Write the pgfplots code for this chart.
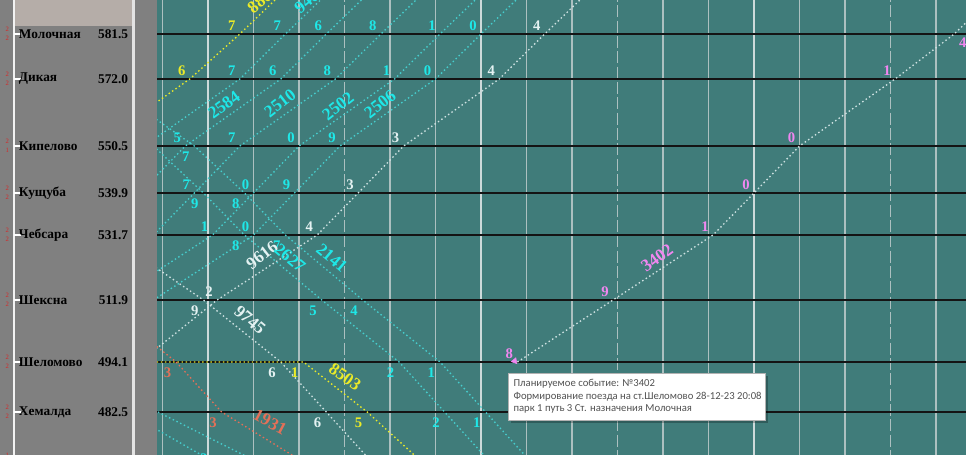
\documentclass[border=0pt]{standalone}
\usepackage{fontspec}
\setmainfont{Liberation Serif}
\newfontfamily\tipfont{Carlito}
\usepackage{pgfplots}
\pgfplotsset{compat=1.18}

\definecolor{bgteal}{RGB}{64,124,122}
\definecolor{panel}{RGB}{128,128,128}
\definecolor{beige}{RGB}{181,173,168}
\definecolor{gridc}{RGB}{172,192,192}
\definecolor{hourc}{RGB}{205,218,218}
\definecolor{cyl}{RGB}{70,205,205}
\definecolor{cyt}{RGB}{30,232,232}
\definecolor{whl}{RGB}{205,225,225}
\definecolor{wht}{RGB}{228,242,242}
\definecolor{yel}{RGB}{235,235,40}
\definecolor{orn}{RGB}{228,112,88}
\definecolor{pnk}{RGB}{240,135,240}
\definecolor{redd}{RGB}{215,40,40}

\tikzset{
  train/.style={line width=1pt, dash pattern=on 1.1pt off 2pt},
  dg/.style={font=\fontsize{11}{11}\selectfont\bfseries, inner sep=0pt},
  tn/.style={font=\fontsize{13}{13}\selectfont\bfseries, inner sep=0pt},
  st/.style={font=\fontsize{10}{10}\selectfont\bfseries, inner sep=0pt, text=black},
  tip/.style={font=\tipfont\fontsize{8}{8}\selectfont, inner sep=0pt, text=black!68, anchor=west},
}
% x: minutes after 19:00, y: position of the station on the sheet
\newcommand\up[4]{\node[dg,text=#4,xshift=-6pt,yshift=6.5pt] at (axis cs:#1,#2) {#3};}
\newcommand\dn[4]{\node[dg,text=#4,xshift=-6.5pt,yshift=-8pt] at (axis cs:#1,#2) {#3};}
\newcommand\stat[5]{%
  \draw[white, line width=1pt] (axis cs:-42.64,#1) -- (axis cs:-41.1,#1);
  \node[st, anchor=west] at (axis cs:-41.6,#1) {#2};
  \node[st, anchor=east] at (axis cs:-17.5,#1) {#3};
  \node[font=\fontsize{5}{5}\selectfont, inner sep=0pt, text=redd] at (axis cs:-44.1,#1-5) {#4};
  \node[font=\fontsize{5}{5}\selectfont, inner sep=0pt, text=redd] at (axis cs:-44.1,#1+4) {#5};}

\begin{document}
\begin{tikzpicture}
\begin{axis}[
  scale only axis, x=3.4125pt, y=0.75pt,
  xmin=-45.714, xmax=166.593, ymin=0, ymax=454, y dir=reverse,
  hide axis, clip=true,
]
\fill[bgteal] (axis cs:-11.209,-10) rectangle (axis cs:175,470);

% time grid
\pgfplotsinvokeforeach{-10,10,20,40,50,70,80,100,110,130,140,160}{
  \draw[gridc, line width=0.8pt] (axis cs:#1,-10) -- (axis cs:#1,470);}
\pgfplotsinvokeforeach{0,60,120}{
  \draw[hourc, line width=1.2pt] (axis cs:#1,-10) -- (axis cs:#1,470);}
\pgfplotsinvokeforeach{30,90,150}{
  \draw[gridc, line width=0.8pt, dash pattern=on 9pt off 2.5pt] (axis cs:#1,-10) -- (axis cs:#1,470);}

% station lines
\pgfplotsinvokeforeach{34,79,146,193,235,300,362,412}{
  \draw[black!92, line width=0.9pt] (axis cs:-11.209,#1) -- (axis cs:175,#1);}

% odd trains (towards Молочная)
\addplot[train, yel] coordinates {(-25,146) (-4,79) (7,34) (17,-10)};
\addplot[train, cyl] coordinates {(-14,146) (7,79) (17,34) (27,-10)};
\addplot[train, cyl] coordinates {(-15,193) (-5,146) (16,79) (26,34) (36,-10)};
\addplot[train, cyl] coordinates {(-12,235) (-3,193) (7,146) (28,79) (38,34) (48,-10)};
\addplot[train, cyl] coordinates {(-21,300) (1,235) (10,193) (20,146) (41,79) (51,34) (61,-10)};
\addplot[train, cyl] coordinates {(-12,300) (10,235) (19,193) (29,146) (50,79) (60,34) (70,-10)};
\addplot[train, whl] coordinates {(-15,362) (2,300) (24,235) (33,193) (43,146) (64,79) (74,34) (84,-10)};
\addplot[train, whl] coordinates {(68,362) (89,300) (111,235) (120,193) (130,146) (151,79) (164,34) (174,-10)};

% even trains (towards Нелазское)
\addplot[train, cyl] coordinates {(-24,79) (-3,146) (8,193) (17,235) (34,300) (51,362) (61,412) (71,462) (74,476)};
\addplot[train, cyl] coordinates {(-12,146) (-1,193) (8,235) (25,300) (42,362) (52,412) (62,462) (65,476)};
\addplot[train, whl] coordinates {(-22,235) (-1,300) (16,362) (26,412) (36,462)};
\addplot[train, yel] coordinates {(-14,362) (21,362) (35,412) (47,462)};
\addplot[train, orn] coordinates {(-24,300) (-7,362) (3,412) (21,462)};
\addplot[train, cyl] coordinates {(-11,412) (10,460)};
\addplot[train, cyl] coordinates {(-18,412) (0.5,460)};

\addplot[only marks, mark=triangle*, mark size=2.6pt, pnk, mark options={rotate=-20}] coordinates {(67.4,361)};

% minutes at the stations
\up{7}{34}{7}{yel} \up{-4}{79}{6}{yel}
\up{17}{34}{7}{cyt} \up{7}{79}{7}{cyt}
\up{26}{34}{6}{cyt} \up{16}{79}{6}{cyt} \up{-5}{146}{5}{cyt}
\up{38}{34}{8}{cyt} \up{28}{79}{8}{cyt} \up{7}{146}{7}{cyt} \up{-3}{193}{7}{cyt}
\up{51}{34}{1}{cyt} \up{41}{79}{1}{cyt} \up{20}{146}{0}{cyt} \up{10}{193}{0}{cyt} \up{1}{235}{1}{cyt}
\up{60}{34}{0}{cyt} \up{50}{79}{0}{cyt} \up{29}{146}{9}{cyt} \up{19}{193}{9}{cyt} \up{10}{235}{0}{cyt}
\up{74}{34}{4}{wht} \up{64}{79}{4}{wht} \up{43}{146}{3}{wht} \up{33}{193}{3}{wht} \up{24}{235}{4}{wht} \up{2}{300}{2}{wht}
\up{68}{362}{8}{pnk} \up{89}{300}{9}{pnk} \up{111}{235}{1}{pnk} \up{120}{193}{0}{pnk}
\up{130}{146}{0}{pnk} \up{151}{79}{1}{pnk}
\node[dg,text=pnk] at (axis cs:165.9,43) {4};

\dn{-3}{146}{7}{cyt} \dn{8}{193}{8}{cyt} \dn{17}{235}{7}{cyt} \dn{34}{300}{4}{cyt} \dn{51}{362}{1}{cyt} \dn{61}{412}{1}{cyt}
\dn{-1}{193}{9}{cyt} \dn{8}{235}{8}{cyt} \dn{25}{300}{5}{cyt} \dn{42}{362}{2}{cyt} \dn{52}{412}{2}{cyt}
\dn{-1}{300}{9}{wht} \dn{16}{362}{6}{wht} \dn{26}{412}{6}{wht}
\dn{21}{362}{1}{yel} \dn{35}{412}{5}{yel}
\dn{-7}{362}{3}{orn} \dn{3}{412}{3}{orn}
\node[dg,text=cyt] at (axis cs:-0.9,459) {2};

% train numbers
\node[tn,text=yel,rotate=40] at (axis cs:12.1,-1) {8806};
\node[tn,text=cyt,rotate=40] at (axis cs:22.4,-1) {9402};
\node[tn,text=cyt,rotate=36] at (axis cs:3.52,105) {2584};
\node[tn,text=cyt,rotate=38] at (axis cs:15.82,103) {2510};
\node[tn,text=cyt,rotate=38] at (axis cs:28.57,106) {2502};
\node[tn,text=cyt,rotate=38] at (axis cs:37.80,104) {2506};
\node[tn,text=wht,rotate=38] at (axis cs:11.87,255) {9616};
\node[tn,text=cyt,rotate=-40] at (axis cs:18.02,258) {2627};
\node[tn,text=cyt,rotate=-40] at (axis cs:27.25,258) {2141};
\node[tn,text=wht,rotate=-40] at (axis cs:9.23,320) {9745};
\node[tn,text=yel,rotate=-35] at (axis cs:30.11,377) {8503};
\node[tn,text=orn,rotate=-28] at (axis cs:13.63,422) {1931};
\node[tn,text=pnk,rotate=36] at (axis cs:98.68,258) {3402};

% tooltip
\fill[black, opacity=0.25] (axis cs:66.6,376) rectangle (axis cs:123.1,423);
\filldraw[fill=white, draw=black!30, line width=0.4pt] (axis cs:65.93,373) rectangle (axis cs:122.42,420);
\node[tip] at (axis cs:67.1,384) {Планируемое событие: №3402};
\node[tip] at (axis cs:67.1,396.5) {Формирование поезда на ст.Шеломово 28-12-23 20:08};
\node[tip] at (axis cs:67.1,409) {парк 1 путь 3 Ст. назначения Молочная};

% station panel on the left
\fill[panel] (axis cs:-50,-10) rectangle (axis cs:-11.209,470);
\fill[beige] (axis cs:-42.42,-10) rectangle (axis cs:-16.70,26);
\fill[white!78!gray] (axis cs:-16.70,-10) rectangle (axis cs:-16.04,470);
\draw[white!90!gray, line width=1pt] (axis cs:-42.64,-10) -- (axis cs:-42.64,470);
\stat{34}{Молочная}{581.5}{2}{2}
\stat{79}{Дикая}{572.0}{2}{2}
\stat{146}{Кипелово}{550.5}{2}{1}
\stat{193}{Кущуба}{539.9}{2}{2}
\stat{235}{Чебсара}{531.7}{2}{2}
\stat{300}{Шексна}{511.9}{2}{2}
\stat{362}{Шеломово}{494.1}{2}{2}
\stat{412}{Хемалда}{482.5}{2}{2}
\stat{460}{Нелазское}{473.2}{1}{2}
\end{axis}
\pgfresetboundingbox
\useasboundingbox (current axis.south west) rectangle (current axis.north east);
\end{tikzpicture}
\end{document}
